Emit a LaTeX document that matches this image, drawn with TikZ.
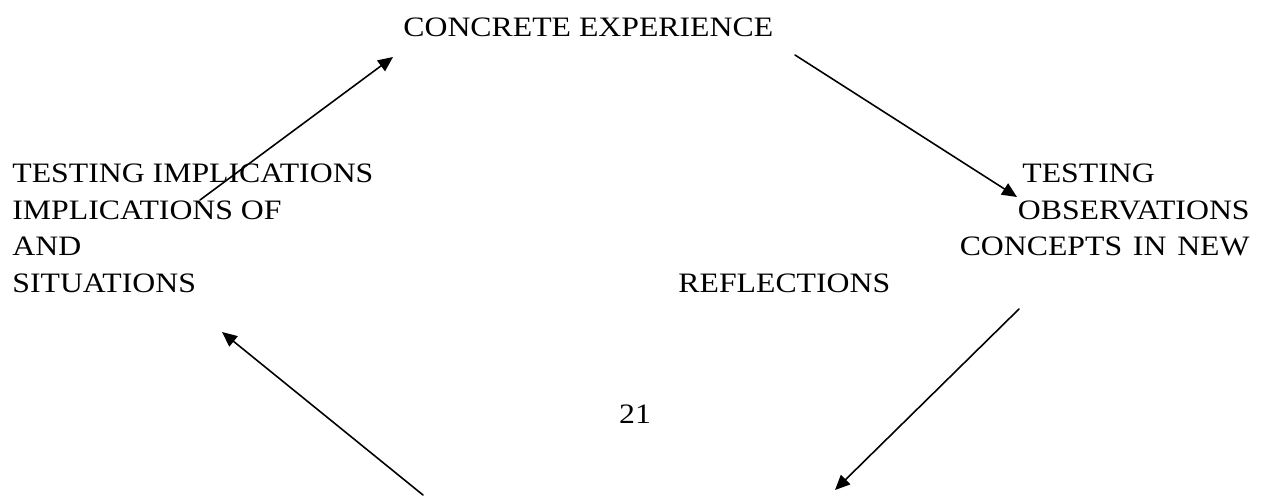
\documentclass[tikz,border=0pt]{standalone}
\usepackage{fontspec}
\setmainfont{Liberation Serif}
\usetikzlibrary{arrows.meta}

\begin{document}
\begin{tikzpicture}[x=1cm,y=1cm,line cap=round,line join=round,
  lbl/.style={font=\fontsize{16}{18}\selectfont,inner sep=0pt,anchor=base west,xscale=1.13,transform shape},
  cyc/.style={-{Triangle[length=8.5pt,width=7.5pt]},line width=0.9pt}]
\useasboundingbox (0,0) rectangle (25.24,9.9);
% stages of the cycle
\node[lbl] (exper) at (8.06,9.16) {CONCRETE EXPERIENCE};
\node[lbl] (testa) at (0.24,6.24) {TESTING IMPLICATIONS};
\node[lbl] (testb) at (0.24,5.50) {IMPLICATIONS OF};
\node[lbl] (testc) at (0.24,4.78) {AND};
\node[lbl] (testd) at (0.24,4.04) {SITUATIONS};
\node[lbl] (obsa) at (20.44,6.24) {TESTING};
\node[lbl,anchor=base east] (obsb) at (25.00,5.50) {OBSERVATIONS};
\node[lbl,anchor=base east] (obsc) at (25.00,4.78) {\makebox[5.13cm][s]{CONCEPTS IN NEW}};
\node[lbl] (refl) at (13.56,4.04) {REFLECTIONS};
\node[lbl,anchor=base] (page) at (12.70,1.44) {21};
% arrow ends
\coordinate (a1s) at (4.00,5.90);
\coordinate (a1e) at (7.86,8.76);
\coordinate (a2s) at (15.90,8.80);
\coordinate (a2e) at (20.34,5.96);
\coordinate (a3s) at (20.38,3.72);
\coordinate (a3e) at (16.70,0.10);
\coordinate (a4s) at (8.46,0.00);
\coordinate (a4e) at (4.44,3.26);
\draw[cyc] (a1s) -- (a1e);
\draw[cyc] (a2s) -- (a2e);
\draw[cyc] (a3s) -- (a3e);
\draw[cyc] (a4s) -- (a4e);
\end{tikzpicture}
\end{document}
